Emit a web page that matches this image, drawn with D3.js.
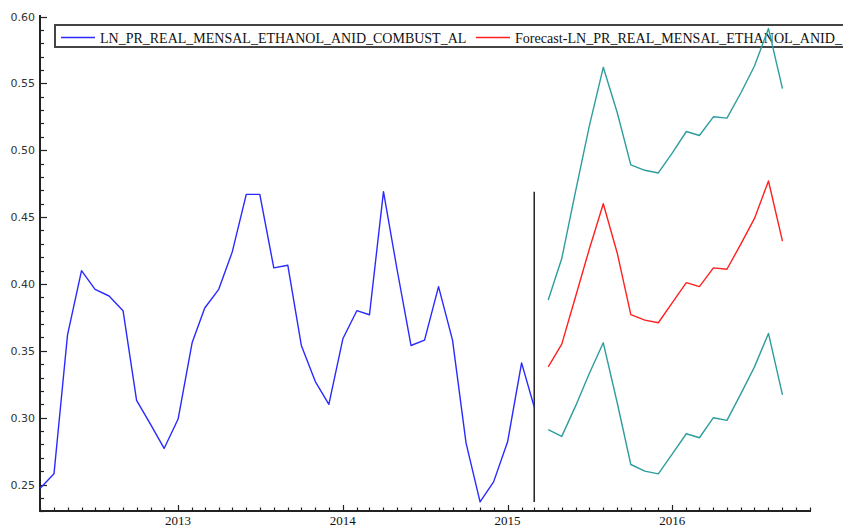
<!DOCTYPE html>
<html>
<head>
<meta charset="utf-8">
<script src="https://cdn.jsdelivr.net/npm/d3@7"></script>
<style>
  html, body { margin: 0; padding: 0; background: #fff; overflow: hidden; }
  svg { display: block; }
</style>
</head>
<body>
<svg id="chart" width="843" height="527"></svg>
<script>
// Monthly log real ethanol price, Mar 2012 - Mar 2015
const actualStart = [2012, 2];   // year, month index (0 = Jan)
const actualValues = [
  0.247, 0.258, 0.362, 0.410, 0.396, 0.391, 0.380, 0.313, 0.295, 0.277,
  0.299, 0.356, 0.382, 0.396, 0.424, 0.467, 0.467, 0.412, 0.414, 0.354, 0.327, 0.310,
  0.359, 0.380, 0.377, 0.469, 0.411, 0.354, 0.358, 0.398, 0.358, 0.281, 0.237, 0.252,
  0.282, 0.341, 0.308
];

// Forecast Apr 2015 - Sep 2016 with its upper and lower bands
const forecastStart = [2015, 3];
const forecastValues = [
  0.338, 0.355, 0.391, 0.426, 0.460, 0.423, 0.377, 0.373, 0.371,
  0.386, 0.401, 0.398, 0.412, 0.411, 0.430, 0.449, 0.477, 0.432
];
const upperValues = [
  0.388, 0.419, 0.470, 0.518, 0.562, 0.528, 0.489, 0.485, 0.483,
  0.498, 0.514, 0.511, 0.525, 0.524, 0.543, 0.563, 0.591, 0.546
];
const lowerValues = [
  0.291, 0.286, 0.309, 0.333, 0.356, 0.311, 0.265, 0.260, 0.258,
  0.273, 0.288, 0.285, 0.300, 0.298, 0.318, 0.338, 0.363, 0.317
];

const yMajorTicks = [0.25, 0.30, 0.35, 0.40, 0.45, 0.50, 0.55, 0.60];
const yearLabels = ["2013", "2014", "2015", "2016"];
const legendLabels = [
  "LN_PR_REAL_MENSAL_ETHANOL_ANID_COMBUST_AL",
  "Forecast-LN_PR_REAL_MENSAL_ETHANOL_ANID_"
];

const colActual = "#2a2aff";
const colForecast = "#ff2020";
const colBand = "#2e9d9d";
const colAxis = "#222";

const monthDate = (start, i) => new Date(Date.UTC(start[0], start[1] + i, 1));
const toSeries = (start, vals) => vals.map((v, i) => ({ date: monthDate(start, i), value: v }));

const actual = toSeries(actualStart, actualValues);
const forecast = toSeries(forecastStart, forecastValues);
const upper = toSeries(forecastStart, upperValues);
const lower = toSeries(forecastStart, lowerValues);

const svg = d3.select("#chart");

const plotLeft = 40, plotRight = 810, plotBottom = 511, plotTop = 15;

const x = d3.scaleUtc()
  .domain([new Date(Date.UTC(2012, 2, 1)), new Date(Date.UTC(2016, 10, 1))])
  .range([plotLeft, plotRight]);
const y = d3.scaleLinear().domain([0.23, 0.60]).range([511.3, 16.5]);

// Legend box (drawn first so the series pass over it)
const legend = svg.append("g");
legend.append("rect")
  .attr("x", 55).attr("y", 25).attr("width", 820).attr("height", 22)
  .attr("fill", "#fff").attr("stroke", "#444").attr("stroke-width", 2);
const legendItems = [
  { label: legendLabels[0], color: colActual, x0: 61, len: null },
  { label: legendLabels[1], color: colForecast, x0: 476, len: 327 }
];
legendItems.forEach(d => {
  legend.append("line")
    .attr("x1", d.x0).attr("x2", d.x0 + 34)
    .attr("y1", 37.5).attr("y2", 37.5)
    .attr("stroke", d.color).attr("stroke-width", 1.5);
  const t = legend.append("text")
    .attr("x", d.x0 + 39).attr("y", 42.5)
    .attr("font-family", "'Liberation Serif', 'Times New Roman', serif")
    .attr("font-size", 14).attr("fill", "#111")
    .text(d.label);
  if (d.len) t.attr("textLength", d.len).attr("lengthAdjust", "spacingAndGlyphs");
});

// Y axis: minor ticks every 0.01, major every 0.05, drawn inward
const yAxis = svg.append("g");
yAxis.append("line")
  .attr("x1", plotLeft).attr("x2", plotLeft).attr("y1", plotTop).attr("y2", plotBottom + 1)
  .attr("stroke", colAxis).attr("stroke-width", 2);
const yMinor = d3.range(23, 61).map(k => k / 100);
yAxis.selectAll("line.minor").data(yMinor).join("line")
  .attr("class", "minor")
  .attr("x1", plotLeft).attr("x2", d => plotLeft + (yMajorTicks.some(m => Math.abs(m - d) < 1e-9) ? 7 : 4))
  .attr("y1", d => Math.round(y(d)) + 0.5).attr("y2", d => Math.round(y(d)) + 0.5)
  .attr("stroke", colAxis).attr("stroke-width", 1.2);
yAxis.selectAll("text").data(yMajorTicks).join("text")
  .attr("x", 35).attr("y", d => y(d) + 4)
  .attr("text-anchor", "end")
  .attr("font-family", "'DejaVu Sans', Verdana, sans-serif")
  .attr("font-size", 11).attr("fill", "#333")
  .text(d => d.toFixed(2));

// X axis: monthly ticks, longer at each January
const xAxis = svg.append("g");
xAxis.append("line")
  .attr("x1", plotLeft - 1).attr("x2", plotRight + 1).attr("y1", plotBottom).attr("y2", plotBottom)
  .attr("stroke", colAxis).attr("stroke-width", 2);
const months = d3.utcMonth.range(x.domain()[0], d3.utcMonth.offset(x.domain()[1], 1));
xAxis.selectAll("line.tick").data(months).join("line")
  .attr("class", "tick")
  .attr("x1", d => Math.round(x(d)) + 0.5).attr("x2", d => Math.round(x(d)) + 0.5)
  .attr("y1", plotBottom).attr("y2", d => plotBottom - (d.getUTCMonth() === 0 ? 6 : 3.5))
  .attr("stroke", colAxis).attr("stroke-width", 1.2);
xAxis.selectAll("text").data(yearLabels).join("text")
  .attr("x", d => x(new Date(Date.UTC(+d, 0, 1))))
  .attr("y", 525)
  .attr("text-anchor", "middle")
  .attr("font-family", "'Liberation Serif', 'Times New Roman', serif")
  .attr("font-size", 13).attr("fill", "#111")
  .text(d => d);

// Vertical marker at the last observation, spanning the observed range
const lastObs = actual[actual.length - 1];
svg.append("line")
  .attr("x1", x(lastObs.date)).attr("x2", x(lastObs.date))
  .attr("y1", y(d3.max(actualValues))).attr("y2", y(d3.min(actualValues)))
  .attr("stroke", "#222").attr("stroke-width", 1.5);

// Series
const line = d3.line().x(d => x(d.date)).y(d => y(d.value));
[
  { data: upper, color: colBand },
  { data: lower, color: colBand },
  { data: forecast, color: colForecast },
  { data: actual, color: colActual }
].forEach(s => {
  svg.append("path")
    .datum(s.data)
    .attr("d", line)
    .attr("fill", "none")
    .attr("stroke", s.color)
    .attr("stroke-width", 1.4)
    .attr("stroke-linejoin", "round");
});
</script>
</body>
</html>
